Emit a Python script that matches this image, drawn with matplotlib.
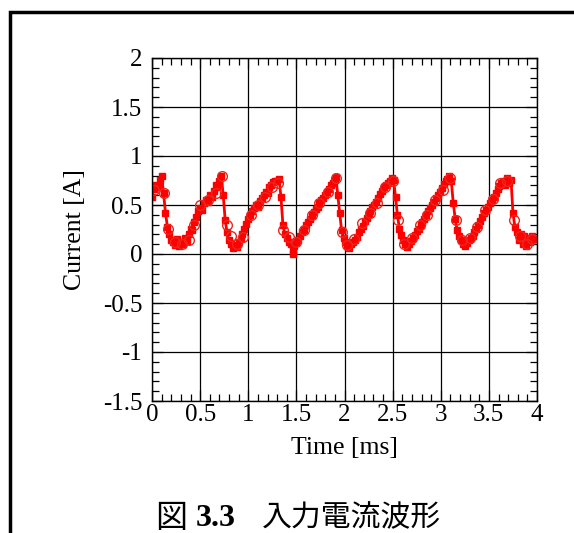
import matplotlib.pyplot as plt
from matplotlib.patches import Rectangle
from matplotlib.ticker import MultipleLocator

plt.rcParams['font.family'] = ['Liberation Serif', 'DejaVu Serif']

# measured current (dense trace, square markers)
t_ms = [0.00, 0.02, 0.04, 0.06, 0.08, 0.10, 0.12, 0.14, 0.16, 0.18, 0.20, 0.22, 0.24, 0.26, 0.28,
        0.30, 0.32, 0.34, 0.36, 0.38, 0.40, 0.42, 0.44, 0.46, 0.48, 0.50, 0.52, 0.54, 0.56, 0.58,
        0.60, 0.62, 0.64, 0.66, 0.68, 0.70, 0.72,
        0.74, 0.76, 0.78, 0.80, 0.82, 0.84, 0.86, 0.88, 0.90, 0.92, 0.94, 0.96, 0.98, 1.00, 1.02,
        1.04, 1.06, 1.08, 1.10, 1.12, 1.14, 1.16, 1.18, 1.20, 1.22, 1.24, 1.26, 1.28, 1.30, 1.32,
        1.34, 1.36, 1.38, 1.40, 1.42, 1.44, 1.46, 1.47, 1.48, 1.50, 1.52, 1.54, 1.56, 1.58, 1.60,
        1.62, 1.64, 1.66, 1.68, 1.70, 1.72, 1.74, 1.76, 1.78, 1.80, 1.82, 1.84, 1.86, 1.88, 1.90, 1.91,
        1.93, 1.95, 1.97, 1.99, 2.01, 2.03, 2.05, 2.07, 2.09, 2.11, 2.13, 2.15, 2.17, 2.19, 2.21,
        2.23, 2.25, 2.27, 2.29, 2.31, 2.33, 2.35, 2.37, 2.39, 2.41, 2.43, 2.45, 2.47, 2.49, 2.51,
        2.53, 2.55, 2.57, 2.59, 2.61, 2.63, 2.65, 2.67, 2.69, 2.71, 2.73, 2.75, 2.77, 2.79, 2.81,
        2.83, 2.85, 2.87, 2.89, 2.91, 2.93, 2.95, 2.97, 2.99, 3.01, 3.03, 3.05, 3.07, 3.09, 3.11,
        3.13, 3.15, 3.17, 3.19, 3.21, 3.23, 3.25, 3.27, 3.29, 3.31, 3.33, 3.35, 3.37, 3.39, 3.41,
        3.43, 3.45, 3.47, 3.49, 3.51, 3.53, 3.55, 3.57, 3.59, 3.61, 3.63, 3.65, 3.67, 3.69, 3.71, 3.73,
        3.75, 3.77, 3.79, 3.81, 3.83, 3.85, 3.87, 3.89, 3.91, 3.93, 3.95, 3.97]
current = [0.58, 0.66, 0.70, 0.68, 0.76, 0.80, 0.62, 0.42, 0.28, 0.20, 0.14, 0.12, 0.09, 0.15, 0.08,
           0.12, 0.10, 0.16, 0.13, 0.20, 0.26, 0.24, 0.33, 0.38, 0.44, 0.47, 0.45, 0.52, 0.55, 0.53,
           0.60, 0.58, 0.64, 0.70, 0.68, 0.74, 0.80,
           0.60, 0.35, 0.22, 0.14, 0.10, 0.06, 0.09, 0.07, 0.12, 0.15, 0.20, 0.26, 0.31, 0.36, 0.40,
           0.44, 0.47, 0.50, 0.48, 0.54, 0.57, 0.60, 0.63, 0.62, 0.68, 0.70, 0.73, 0.75, 0.74, 0.77,
           0.58, 0.30, 0.20, 0.16, 0.12, 0.10, 0.04, 0.00, 0.08, 0.12, 0.14, 0.18, 0.22, 0.25, 0.30,
           0.33, 0.36, 0.40, 0.43, 0.46, 0.48, 0.52, 0.55, 0.57, 0.60, 0.63, 0.66, 0.70, 0.72, 0.76, 0.79,
           0.60, 0.42, 0.24, 0.16, 0.12, 0.08, 0.06, 0.10, 0.12, 0.14, 0.17, 0.22, 0.26, 0.29, 0.34,
           0.37, 0.41, 0.44, 0.48, 0.50, 0.53, 0.57, 0.61, 0.64, 0.68, 0.70, 0.72, 0.75, 0.78, 0.76,
           0.58, 0.40, 0.26, 0.19, 0.14, 0.10, 0.07, 0.10, 0.13, 0.16, 0.19, 0.23, 0.26, 0.30, 0.33,
           0.36, 0.40, 0.44, 0.47, 0.50, 0.53, 0.57, 0.60, 0.63, 0.67, 0.71, 0.74, 0.77, 0.80, 0.74,
           0.52, 0.36, 0.24, 0.18, 0.14, 0.10, 0.08, 0.11, 0.14, 0.16, 0.18, 0.22, 0.26, 0.30, 0.34,
           0.38, 0.42, 0.45, 0.48, 0.52, 0.55, 0.58, 0.62, 0.66, 0.69, 0.72, 0.75, 0.70, 0.78, 0.72, 0.76,
           0.42, 0.28, 0.22, 0.14, 0.20, 0.10, 0.18, 0.08, 0.16, 0.12, 0.18, 0.15]

# sparse samples (open circles)
t_circ = [0.02, 0.12, 0.17, 0.24, 0.31, 0.38, 0.44, 0.50, 0.58, 0.66, 0.73, 0.78, 0.82, 0.88, 0.95,
          1.03, 1.10, 1.17, 1.25, 1.31, 1.36, 1.42, 1.50, 1.58, 1.66, 1.74, 1.83, 1.91, 1.97, 2.03,
          2.10, 2.18, 2.26, 2.34, 2.42, 2.50, 2.56, 2.62, 2.70, 2.78, 2.86, 2.94, 3.02, 3.10, 3.16,
          3.22, 3.30, 3.38, 3.46, 3.54, 3.62, 3.69, 3.76, 3.82, 3.90, 3.95]
i_circ = [0.65, 0.62, 0.26, 0.12, 0.10, 0.14, 0.30, 0.50, 0.55, 0.62, 0.80, 0.30, 0.18, 0.10, 0.17,
          0.40, 0.50, 0.58, 0.68, 0.72, 0.25, 0.17, 0.12, 0.24, 0.40, 0.52, 0.63, 0.78, 0.22, 0.09,
          0.15, 0.32, 0.42, 0.52, 0.68, 0.74, 0.35, 0.10, 0.16, 0.30, 0.40, 0.55, 0.65, 0.78, 0.35,
          0.14, 0.16, 0.28, 0.45, 0.56, 0.72, 0.74, 0.35, 0.18, 0.10, 0.15]

fig = plt.figure(figsize=(5.74, 5.33), dpi=100)
# page frame around the figure
fig.patches.append(Rectangle((10 / 574, -0.1), 1.2, 1 - 12 / 533 + 0.1, transform=fig.transFigure,
                             fill=False, edgecolor='black', linewidth=2.5))

ax = fig.add_axes([152 / 574, 1 - 401 / 533, 385 / 574, 343 / 533])
ax.plot(t_ms, current, color='red', linewidth=2.0, marker='s', markersize=5)
ax.plot(t_circ, i_circ, linestyle='none', marker='o', markersize=7,
        markerfacecolor='none', markeredgecolor='#e8281e', markeredgewidth=1.0)

ax.set_xlim(0, 4)
ax.set_ylim(-1.5, 2)
ax.xaxis.set_major_locator(MultipleLocator(0.5))
ax.xaxis.set_minor_locator(MultipleLocator(0.1))
ax.yaxis.set_major_locator(MultipleLocator(0.5))
ax.yaxis.set_minor_locator(MultipleLocator(0.1))
ax.xaxis.set_major_formatter(plt.FuncFormatter(lambda v, p: f'{v:g}'))
ax.yaxis.set_major_formatter(plt.FuncFormatter(lambda v, p: f'{v:g}'))
ax.grid(True, which='major', color='black', linewidth=0.9)
ax.tick_params(which='both', direction='in', top=True, right=True, labelsize=18, color='black')
ax.tick_params(which='major', length=8, width=0.9, pad=2)
ax.tick_params(which='minor', length=5, width=0.9)
ax.tick_params(axis='y', pad=7)
for s in ax.spines.values():
    s.set_linewidth(1.0)

ax.set_xlabel('Time [ms]', fontsize=18.5, labelpad=8)
ax.set_ylabel('Current [A]', fontsize=18.5, labelpad=12)

fig.text(155 / 574, 1 - 518 / 533, '図', fontsize=23, family=['Noto Sans CJK JP'], va='center', ha='left')
fig.text(196 / 574, 1 - 518 / 533, '3.3', fontsize=23, weight='bold', va='center', ha='left')
fig.text(262 / 574, 1 - 518 / 533, '入力電流波形', fontsize=21.5, family=['Noto Sans CJK JP'],
         va='center', ha='left')

fig.savefig('out.png', dpi=100)
